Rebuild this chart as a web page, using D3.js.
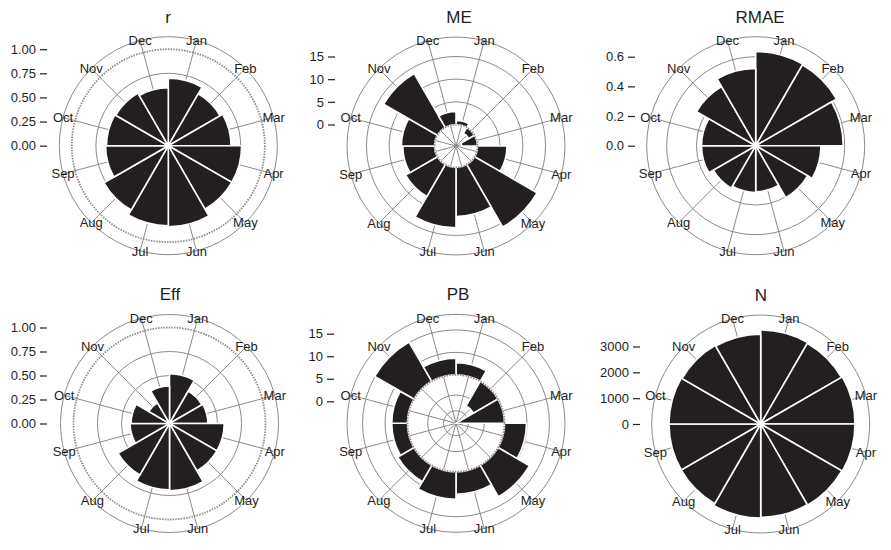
<!DOCTYPE html>
<html><head><meta charset="utf-8">
<script src="https://cdn.jsdelivr.net/npm/d3@7"></script>
<style>
html,body{margin:0;padding:0;background:#fff;}
svg{display:block;font-family:"Liberation Sans",Arial,sans-serif;}
</style></head><body>
<svg id="chart" width="891" height="550"></svg>
<script>
// ---------- data ----------
const months = ["Jan","Feb","Mar","Apr","May","Jun","Jul","Aug","Sep","Oct","Nov","Dec"];
const rValues    = [0.70,0.62,0.65,0.76,0.76,0.84,0.83,0.77,0.65,0.64,0.63,0.60];
const meValues   = [0.9,-1.5,-3.5,6.5,15.9,10.8,13.3,8.1,7.0,7.3,13.7,2.9];
const rmaeValues = [0.635,0.63,0.59,0.44,0.405,0.31,0.315,0.33,0.365,0.365,0.46,0.52];
const effValues  = [0.52,0.39,0.40,0.57,0.57,0.70,0.69,0.62,0.41,0.40,0.25,0.39];
const pbValues   = [2.7,-6.3,-10.8,4.9,8.1,5.0,6.1,4.2,3.5,3.5,10.1,3.7];
const nValues    = [3640,3610,3650,3650,3625,3610,3640,3560,3550,3550,3520,3480];

const rTicks    = [0,0.25,0.5,0.75,1];
const meTicks   = [0,5,10,15];
const rmaeTicks = [0,0.2,0.4,0.6];
const effTicks  = [0,0.25,0.5,0.75,1];
const pbTicks   = [0,5,10,15];
const nTicks    = [0,1000,2000,3000];

const rGrid = [0.25,0.5,0.75];
const meGrid = [5,10,15];
const rmaeGrid = [0.2,0.4,0.6];
const effGrid = [0.25,0.5,0.75];
const pbGrid = [-8,-4.5,5,10];
const nGrid = [1000,2000,3000];

// ---------- layout ----------
const OUTER = 109;
const panels = [
  {title:"r",    values:rValues,    ticks:rTicks,    grid:rGrid,    fmt:".2f", ref:1,    base:0,
   dom:[0,1],     rng:[0,96.5],  cx:168.3, cy:145.7, axisX:47,  titleX:168, titleY:23},
  {title:"ME",   values:meValues,   ticks:meTicks,   grid:meGrid,   fmt:"d",   ref:0,    base:0,
   dom:[0,15],    rng:[21.5,89.5], cx:456, cy:146,  axisX:335, titleX:459, titleY:23},
  {title:"RMAE", values:rmaeValues, ticks:rmaeTicks, grid:rmaeGrid, fmt:".1f", ref:null, base:0,
   dom:[0,0.6],   rng:[0,89],    cx:755.7, cy:145.7, axisX:635, titleX:760, titleY:23},
  {title:"Eff",  values:effValues,  ticks:effTicks,  grid:effGrid,  fmt:".2f", ref:1,    base:0,
   dom:[0,1],     rng:[0,96],    cx:169.5, cy:423.5, axisX:47,  titleX:170, titleY:300},
  {title:"PB",   values:pbValues,   ticks:pbTicks,   grid:pbGrid,   fmt:"d",   ref:0,    base:0,
   dom:[-10.8,0], rng:[0,48.5],  axisDom:[0,15], axisRng:[22,89.6],
   cx:456, cy:423.3, axisX:334, titleX:458, titleY:300},
  {title:"N",    values:nValues,    ticks:nTicks,    grid:nGrid,    fmt:"d",   ref:null, base:0,
   dom:[0,3000],  rng:[0,77.5],  cx:760.7, cy:424, axisX:640, titleX:761, titleY:301}
];

const svg = d3.select("#chart");
const gridColor = "#8a8a8a";
const barColor = "#231f20";
const textColor = "#231f20";
const step = 2*Math.PI/12;

panels.forEach(p => {
  const scale = d3.scaleLinear().domain(p.dom).range(p.rng);
  const rs = v => Math.max(0, scale(v));
  const g = svg.append("g").attr("transform", `translate(${p.cx},${p.cy})`);

  // grid circles
  g.selectAll("circle.grid").data(p.grid).join("circle")
    .attr("class","grid").attr("r", d => rs(d))
    .attr("fill","none").attr("stroke",gridColor).attr("stroke-width",1);
  g.append("circle").attr("r", OUTER)
    .attr("fill","none").attr("stroke",gridColor).attr("stroke-width",1);

  // spokes
  g.selectAll("line.spoke").data(months).join("line")
    .attr("class","spoke")
    .attr("x1",0).attr("y1",0)
    .attr("x2",(d,i)=> OUTER*Math.sin((i+0.5)*step))
    .attr("y2",(d,i)=> -OUTER*Math.cos((i+0.5)*step))
    .attr("stroke",gridColor).attr("stroke-width",1);

  // bars
  const arc = d3.arc()
    .innerRadius(d => Math.min(rs(p.base), rs(d.v)))
    .outerRadius(d => Math.max(rs(p.base), rs(d.v)))
    .startAngle(d => d.i*step)
    .endAngle(d => (d.i+1)*step);
  g.selectAll("path.bar").data(p.values.map((v,i)=>({v,i}))).join("path")
    .attr("class","bar").attr("d", arc)
    .attr("fill",barColor).attr("stroke","#fff").attr("stroke-width",1.6);

  // reference circle
  if (p.ref !== null) {
    g.append("circle").attr("r", rs(p.ref))
      .attr("fill","none").attr("stroke","#8a8a8a").attr("stroke-width",1.8)
      .attr("stroke-dasharray","1.5,1.2");
  }

  // month labels
  g.selectAll("text.month").data(months).join("text")
    .attr("class","month")
    .attr("x",(d,i)=> OUTER*Math.sin((i+0.5)*step))
    .attr("y",(d,i)=> -OUTER*Math.cos((i+0.5)*step))
    .attr("dy","0.35em")
    .attr("text-anchor","middle")
    .attr("font-size",13).attr("fill",textColor)
    .text(d=>d);

  // title
  svg.append("text").attr("x",p.titleX).attr("y",p.titleY)
    .attr("text-anchor","middle").attr("font-size",17).attr("fill",textColor)
    .text(p.title);

  // radial axis on the left
  const aDom = p.axisDom || p.dom;
  const aRng = p.axisRng || p.rng;
  const ys = d3.scaleLinear().domain(aDom).range(aRng.map(r => p.cy - r));
  const ax = svg.append("g").attr("transform",`translate(${p.axisX},0)`)
    .call(d3.axisLeft(ys).tickValues(p.ticks).tickFormat(d3.format(p.fmt))
      .tickSize(7).tickPadding(4));
  ax.select(".domain").remove();
  ax.selectAll(".tick line").attr("stroke",textColor).attr("stroke-width",1.2);
  ax.selectAll(".tick text").attr("font-size",13).attr("fill",textColor)
    .attr("font-family","Liberation Sans, Arial, sans-serif");
});
</script>
</body></html>
